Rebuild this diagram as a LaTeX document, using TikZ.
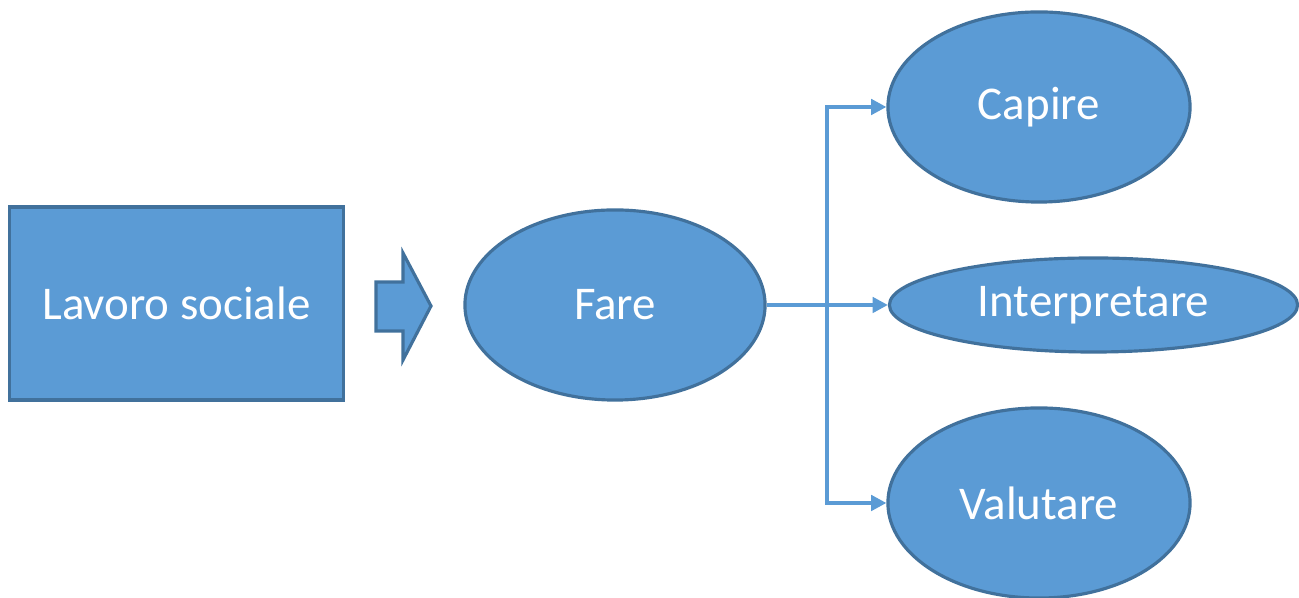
\documentclass[tikz,border=0pt]{standalone}
\usepackage{fontspec}
\setmainfont{Carlito}
\usetikzlibrary{shapes.geometric,arrows.meta}
\definecolor{fillblue}{HTML}{5B9BD5}
\definecolor{edgeblue}{HTML}{41719C}
\tikzset{
  shapebox/.style={fill=fillblue,draw=edgeblue,line width=0.9pt,text=white,inner sep=0pt,
    font=\fontsize{13.35}{16}\selectfont},
  ell/.style={shapebox,ellipse},
  conn/.style={draw=fillblue,line width=0.9pt},
  arr/.style={conn,-{Triangle[length=4.3pt,width=4.4pt]}}
}
\begin{document}
\begin{tikzpicture}[x=0.01cm,y=-0.01cm]
\useasboundingbox (0,0) rectangle (1299,598);
\node[shapebox,minimum width=3.33cm,minimum height=1.93cm] (lav) at (176.5,303.5) {Lavoro sociale};
\coordinate (a1) at (376,282);
\coordinate (a2) at (403,282);
\coordinate (a3) at (403,253);
\coordinate (a4) at (431,306);
\coordinate (a5) at (403,360);
\coordinate (a6) at (403,331);
\coordinate (a7) at (376,331);
\filldraw[fill=fillblue,draw=edgeblue,line width=0.9pt] (a1) -- (a2) -- (a3) -- (a4) -- (a5) -- (a6) -- (a7) -- cycle;
\node[ell,minimum width=3.0cm,minimum height=1.9cm] (fare) at (615,305) {Fare};
\node[ell,minimum width=3.02cm,minimum height=1.9cm] (cap) at (1039,107) {Capire};
\node[ell,minimum width=4.08cm,minimum height=0.94cm] (int) at (1093.5,305) {Interpretare};
\node[ell,minimum width=3.02cm,minimum height=1.9cm] (val) at (1039,503) {Valutare};
\coordinate (j) at (827,305);
\draw[conn] (fare.east) -- (j);
\draw[arr] (j) |- (cap.west);
\draw[arr] (j) -- (int.west);
\draw[arr] (j) |- (val.west);
\end{tikzpicture}
\end{document}
